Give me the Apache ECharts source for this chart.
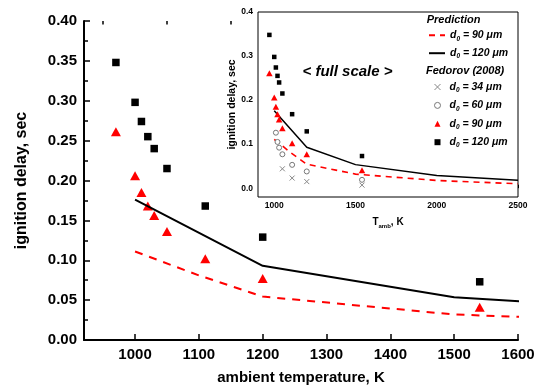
<!DOCTYPE html>
<html>
<head>
<meta charset="utf-8">
<script src="https://cdn.jsdelivr.net/npm/echarts@6/dist/echarts.min.js"></script>
<style>
  html, body { margin: 0; padding: 0; background: #fff; }
  #chart { width: 540px; height: 392px; }
</style>
</head>
<body>
<div id="chart"></div>
<script>
// measured ignition delays (Fedorov 2008)
const expT = [970, 1000, 1010, 1020, 1030, 1050, 1110, 1200, 1540];
const exp120 = [0.348, 0.298, 0.274, 0.255, 0.240, 0.215, 0.168, 0.129, 0.073];
const exp90 = [0.261, 0.206, 0.185, 0.168, 0.156, 0.136, 0.102, 0.077, 0.041];
const fed60T = [1010, 1020, 1030, 1050, 1110, 1200, 1540];
const fed60 = [0.126, 0.105, 0.092, 0.077, 0.053, 0.038, 0.019];
const fed34T = [1050, 1110, 1200, 1540];
const fed34 = [0.044, 0.023, 0.015, 0.007];

// model prediction
const predT120 = [1000, 1200, 1500, 2000, 2500];
const pred120 = [0.176, 0.093, 0.0535, 0.029, 0.018];
const predT90 = [1000, 1100, 1200, 1500, 2000, 2500];
const pred90 = [0.111, 0.081, 0.0545, 0.032, 0.0175, 0.010];

// ticks
const mainXTicks = [1000, 1100, 1200, 1300, 1400, 1500, 1600];
const mainXMinor = [950, 1050, 1150, 1250, 1350, 1450, 1550];
const insetXLabels = [1000, 1500, 2000, 2500];
const insetXTicks = [1000, 1250, 1500, 1750, 2000, 2250, 2500];
const insetYLabels = [0, 0.1, 0.2, 0.3, 0.4];
const insetYTicks = [0, 0.05, 0.1, 0.15, 0.2, 0.25, 0.3, 0.35, 0.4];

const FONT = '"Liberation Sans", Arial, sans-serif';
const zip = (xs, ys) => xs.map((x, i) => [x, ys[i]]);

const legendLabels = {
  pred90: "{d|d}{s|0}{d| = 90 μm}",
  pred120: "{d|d}{s|0}{d| = 120 μm}",
  fed34: "{g|}{d|d}{s|0}{d| = 34 μm}",
  fed60: "{g|}{d|d}{s|0}{d| = 60 μm}",
  fed90: "{g|}{d|d}{s|0}{d| = 90 μm}",
  fed120: "{g|}{d|d}{s|0}{d| = 120 μm}"
};
const legendText = {
  rich: {
    g: { width: 4 },
    d: { fontFamily: FONT, fontSize: 10.5, fontWeight: "bold", fontStyle: "italic", color: "#000", lineHeight: 14, verticalAlign: "middle" },
    s: { fontFamily: FONT, fontSize: 6.5, fontWeight: "bold", fontStyle: "italic", color: "#000", lineHeight: 14, verticalAlign: "bottom" }
  }
};
const legendBase = {
  orient: "vertical",
  selectedMode: false,
  formatter: (name) => legendLabels[name],
  textStyle: legendText
};
const hiddenDot = { color: "rgba(0,0,0,0)", borderWidth: 0, opacity: 0 };

const chart = echarts.init(document.getElementById("chart"));
chart.setOption({
  animation: false,
  backgroundColor: "#fff",
  grid: [
    { left: 84, top: 21, right: 22, bottom: 52 },
    { left: 258, top: 12, width: 260, height: 185, show: true, borderColor: "#000", borderWidth: 1, backgroundColor: "#fff", z: 3 }
  ],
  xAxis: [
    {
      gridIndex: 0, type: "value", min: 920, max: 1600,
      name: "ambient temperature, K", nameLocation: "middle", nameGap: 30,
      nameTextStyle: { fontFamily: FONT, fontSize: 15, fontWeight: "bold", color: "#000" },
      axisLine: { lineStyle: { color: "#000", width: 2 } },
      axisTick: { inside: true, length: 6, customValues: mainXTicks, lineStyle: { color: "#000", width: 1.5 } },
      axisLabel: { customValues: mainXTicks, margin: 7, fontFamily: FONT, fontSize: 15, fontWeight: "bold", color: "#000", formatter: (v) => String(v) },
      splitLine: { show: false }
    },
    {
      gridIndex: 0, type: "value", min: 920, max: 1600,
      axisLine: { show: false },
      axisTick: { inside: true, length: 3.5, customValues: mainXMinor, lineStyle: { color: "#000", width: 1.5 } },
      axisLabel: { show: false },
      splitLine: { show: false }
    },
    {
      gridIndex: 1, type: "value", min: 900, max: 2500,
      name: "{t|T}{s|amb}{t|, K}", nameLocation: "middle", nameGap: 18,
      nameTextStyle: {
        rich: {
          t: { fontFamily: FONT, fontSize: 10, fontWeight: "bold", color: "#000", lineHeight: 14, verticalAlign: "middle" },
          s: { fontFamily: FONT, fontSize: 6, fontWeight: "bold", color: "#000", lineHeight: 14, verticalAlign: "bottom" }
        }
      },
      axisLine: { show: false },
      axisTick: { inside: true, length: 3.5, customValues: insetXTicks, lineStyle: { color: "#000", width: 1 } },
      axisLabel: { customValues: insetXLabels, margin: 4, fontFamily: FONT, fontSize: 8.5, fontWeight: "bold", color: "#000", formatter: (v) => String(v) },
      splitLine: { show: false }
    }
  ],
  yAxis: [
    {
      gridIndex: 0, type: "value", min: 0, max: 0.4, interval: 0.05,
      name: "ignition delay, sec", nameLocation: "middle", nameGap: 54,
      nameTextStyle: { fontFamily: FONT, fontSize: 16, fontWeight: "bold", color: "#000" },
      axisLine: { show: true, lineStyle: { color: "#000", width: 2 } },
      axisTick: { show: true, inside: true, length: 6, lineStyle: { color: "#000", width: 1.5 } },
      minorTick: { show: true, splitNumber: 2, length: 4, lineStyle: { color: "#000", width: 1.5 } },
      axisLabel: { margin: 7, fontFamily: FONT, fontSize: 15, fontWeight: "bold", color: "#000", formatter: (v) => v.toFixed(2) },
      splitLine: { show: false }
    },
    {
      gridIndex: 1, type: "value", min: -0.02, max: 0.4,
      name: "ignition delay, sec", nameLocation: "middle", nameGap: 19,
      nameTextStyle: { fontFamily: FONT, fontSize: 10.5, fontWeight: "bold", color: "#000" },
      axisLine: { show: false },
      axisTick: { show: true, inside: true, length: 3.5, customValues: insetYTicks, lineStyle: { color: "#000", width: 1 } },
      axisLabel: { customValues: insetYLabels, margin: 5, fontFamily: FONT, fontSize: 8.5, fontWeight: "bold", color: "#000", formatter: (v) => v.toFixed(1) },
      splitLine: { show: false }
    }
  ],
  legend: [
    Object.assign({}, legendBase, {
      left: 423, top: 24.8, itemWidth: 16, itemHeight: 6, itemGap: 5.4,
      data: [
        { name: "pred90", itemStyle: hiddenDot },
        { name: "pred120", itemStyle: hiddenDot }
      ]
    }),
    Object.assign({}, legendBase, {
      left: 429, top: 76, itemWidth: 6, itemHeight: 6, itemGap: 5.4,
      data: [
        { name: "fed34", itemStyle: { color: "#888", borderColor: "#888", borderWidth: 1 } },
        { name: "fed60", itemStyle: { color: "#fff", borderColor: "#777", borderWidth: 1 } },
        "fed90",
        "fed120"
      ]
    })
  ],
  graphic: [
    { type: "text", x: 347.5, y: 72, z: 10, style: { text: "< full scale >", font: "italic bold 15px " + FONT, fill: "#000", textAlign: "center", textVerticalAlign: "middle" } },
    { type: "text", x: 426.7, y: 19.5, z: 10, style: { text: "Prediction", font: "italic bold 11px " + FONT, fill: "#000", textAlign: "left", textVerticalAlign: "middle" } },
    { type: "text", x: 426, y: 71, z: 10, style: { text: "Fedorov (2008)", font: "italic bold 11px " + FONT, fill: "#000", textAlign: "left", textVerticalAlign: "middle" } }
  ],
  series: [
    // main plot
    { name: "main120", type: "line", xAxisIndex: 0, yAxisIndex: 0, data: zip(predT120, pred120), symbol: "none",
      lineStyle: { color: "#000", width: 2 }, itemStyle: { color: "#000" } },
    { name: "main90", type: "line", xAxisIndex: 0, yAxisIndex: 0, data: zip(predT90, pred90), symbol: "none",
      lineStyle: { color: "#ff0000", width: 2, type: [8, 7] }, itemStyle: { color: "#ff0000" } },
    { name: "mainExp120", type: "scatter", xAxisIndex: 0, yAxisIndex: 0, data: zip(expT, exp120), symbol: "rect", symbolSize: 7.5,
      itemStyle: { color: "#000", opacity: 1 } },
    { name: "mainExp90", type: "scatter", xAxisIndex: 0, yAxisIndex: 0, data: zip(expT, exp90), symbol: "triangle", symbolSize: [10, 9],
      itemStyle: { color: "#ff0000", opacity: 1 } },
    // inset plot
    { name: "pred90", type: "line", xAxisIndex: 2, yAxisIndex: 1, data: zip(predT90, pred90), symbol: "none", z: 4,
      lineStyle: { color: "#ff0000", width: 1.6, type: [6, 5] }, itemStyle: { color: "#ff0000" } },
    { name: "pred120", type: "line", xAxisIndex: 2, yAxisIndex: 1, data: zip(predT120, pred120), symbol: "none", z: 4,
      lineStyle: { color: "#000", width: 1.5 }, itemStyle: { color: "#000" } },
    { name: "fed34", type: "scatter", xAxisIndex: 2, yAxisIndex: 1, data: zip(fed34T, fed34), z: 4,
      symbol: "path://M0,0L10,10M0,10L10,0", symbolSize: 5,
      itemStyle: { color: "#888", borderColor: "#888", borderWidth: 1, opacity: 1 } },
    { name: "fed60", type: "scatter", xAxisIndex: 2, yAxisIndex: 1, data: zip(fed60T, fed60), z: 4,
      symbol: "circle", symbolSize: 5,
      itemStyle: { color: "#fff", borderColor: "#777", borderWidth: 1, opacity: 1 } },
    { name: "fed90", type: "scatter", xAxisIndex: 2, yAxisIndex: 1, data: zip(expT, exp90), z: 4,
      symbol: "triangle", symbolSize: [6.5, 6], itemStyle: { color: "#ff0000", opacity: 1 } },
    { name: "fed120", type: "scatter", xAxisIndex: 2, yAxisIndex: 1, data: zip(expT, exp120), z: 4,
      symbol: "rect", symbolSize: 4.5, itemStyle: { color: "#000", opacity: 1 } }
  ]
});
</script>
</body>
</html>
